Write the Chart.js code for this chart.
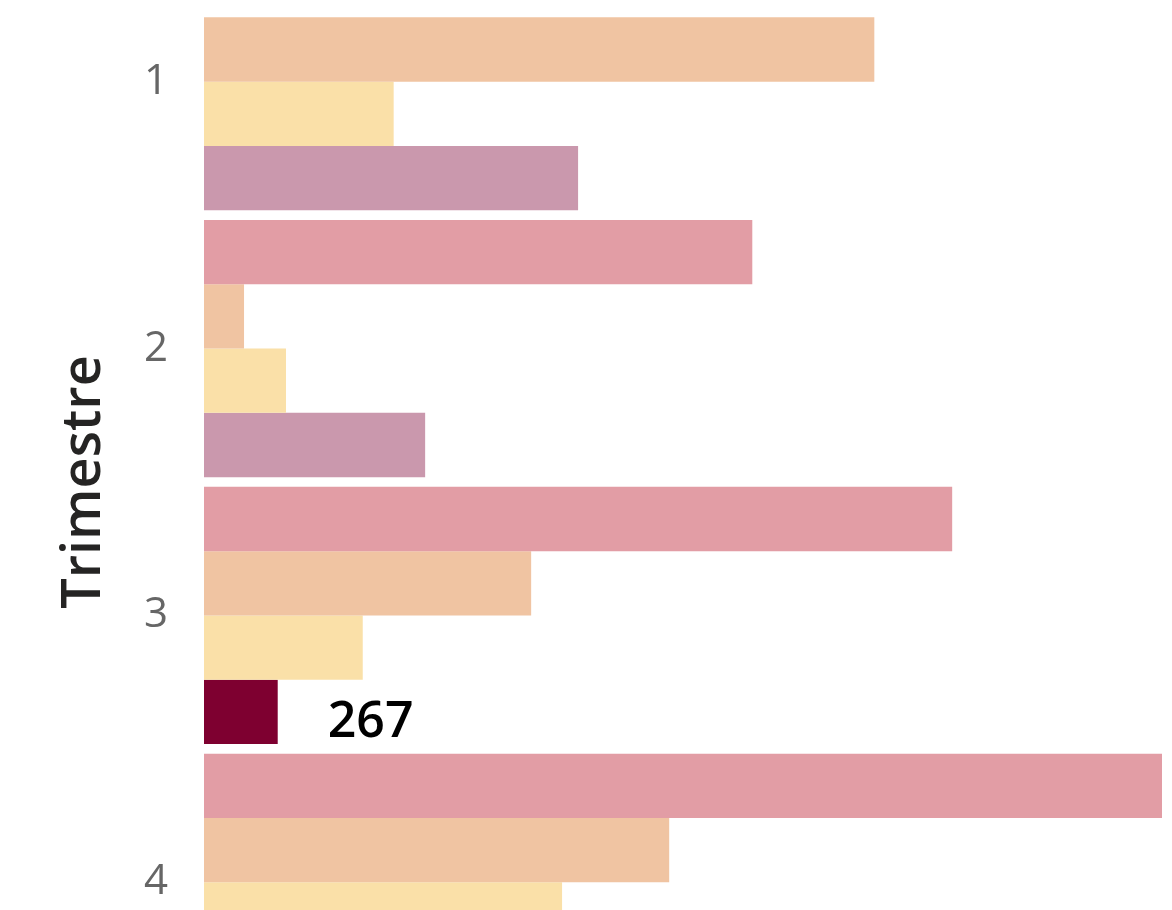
<!DOCTYPE html>
<html>
<head>
<meta charset="utf-8">
<script src="https://cdn.jsdelivr.net/npm/chart.js@4/dist/chart.umd.min.js"></script>
<style>
  html, body { margin: 0; padding: 0; background: #fff; }
  #wrap { position: relative; width: 1172px; height: 910px; overflow: hidden; }
  /* the reference is a cropped view of a taller chart */
  #chart { position: absolute; left: 0; top: -105px; }
</style>
</head>
<body>
<div id="wrap">
  <canvas id="chart" width="1172" height="1174"></canvas>
</div>
<script>
document.addEventListener("DOMContentLoaded", () => {
  // Data
  const trimestres = ["1", "2", "3", "4"];
  const seriesA = [null, 1986, 2710, 3470];
  const seriesB = [2428, 145, 1185, 1685];
  const seriesC = [687, 297, 575, 1297];
  const seriesD = [1355, 801, 267, 1500];
  const highlightIndex = 2; // selected bar (trimestre 3, series D)

  const mauve = seriesD.map((v, i) => (i === highlightIndex ? "#7E0030" : "#CA98AD"));

  // draws the value label next to the selected bar
  const valueLabel = {
    id: "valueLabel",
    afterDatasetsDraw(chart) {
      const bar = chart.getDatasetMeta(3).data[highlightIndex];
      const c = chart.ctx;
      c.save();
      c.font = "600 50px 'Open Sans'";
      c.fillStyle = "#000";
      c.textAlign = "left";
      c.textBaseline = "alphabetic";
      c.fillText(String(seriesD[highlightIndex]), bar.x + 50, bar.y + 25);
      c.restore();
    },
  };

  const ctx = document.getElementById("chart").getContext("2d");
  new Chart(ctx, {
    type: "bar",
    data: {
      labels: trimestres,
      datasets: [
        { label: "A", data: seriesA, backgroundColor: "#E29DA5" },
        { label: "B", data: seriesB, backgroundColor: "#F0C4A2" },
        { label: "C", data: seriesC, backgroundColor: "#FAE0A8" },
        { label: "D", data: seriesD, backgroundColor: mauve },
      ],
    },
    options: {
      indexAxis: "y",
      responsive: false,
      animation: false,
      layout: { padding: { top: 0, bottom: 0, left: 0, right: 10 } },
      datasets: {
        bar: { barPercentage: 1, categoryPercentage: 0.964, borderWidth: 0 },
      },
      plugins: {
        legend: { display: false },
        tooltip: { enabled: false },
      },
      scales: {
        x: { display: false, min: 0, max: 3470 },
        y: {
          grid: { display: false },
          border: { display: false },
          ticks: {
            color: "#666666",
            padding: 28,
            font: { family: "'Open Sans'", size: 42 },
          },
          title: {
            display: true,
            text: "Trimestre",
            color: "#252423",
            padding: { top: 52, bottom: 0 },
            font: { family: "'Open Sans'", size: 54, weight: "600" },
          },
          afterFit: (scale) => {
            scale.width = 204;
          },
        },
      },
    },
    plugins: [valueLabel],
  });
});
</script>
</body>
</html>
